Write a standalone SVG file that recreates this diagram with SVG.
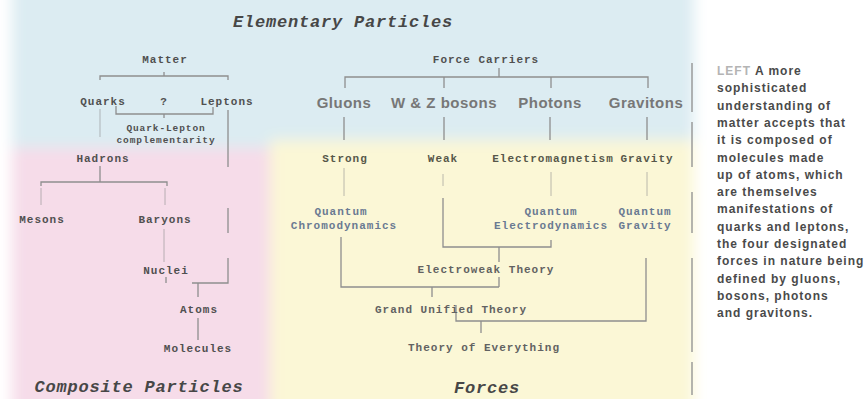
<svg xmlns="http://www.w3.org/2000/svg" width="866" height="399" viewBox="0 0 866 399">
<defs>
<filter id="soft" x="-10%" y="-10%" width="120%" height="120%"><feGaussianBlur stdDeviation="7"/></filter>
<style>
.t{font-family:"Liberation Mono","DejaVu Sans Mono",monospace;font-size:11px;font-weight:bold;letter-spacing:1px;text-anchor:middle;fill:#505050}
.s{font-size:9.5px;letter-spacing:0.9px}
.q{fill:#6a7a92}
.f{fill:#57574a}
.g{fill:#626262}
.c{font-family:"Liberation Sans",Arial,sans-serif;font-weight:bold;font-size:15px;letter-spacing:0.5px;text-anchor:middle;fill:#777}
.h{font-family:"Liberation Mono","DejaVu Sans Mono",monospace;font-style:italic;font-weight:bold;font-size:17px;letter-spacing:0.8px;text-anchor:middle;fill:#474747}
.p{font-family:"Liberation Sans",Arial,sans-serif;font-weight:bold;font-size:12px;letter-spacing:1px;fill:#4a4a4a}
.lf{fill:#b4b4b4}
.ln{fill:none;stroke:#8e8e8e;stroke-width:1.3}
.fa{opacity:0.45}
</style>
</defs>
<rect width="866" height="399" fill="#ffffff"/>
<g id="background" filter="url(#soft)">
<rect x="12" y="-40" width="682" height="188" fill="#dcecf2"/>
<rect x="12" y="148" width="258" height="290" fill="#f6dce9"/>
<rect x="270" y="140" width="424" height="298" fill="#fbf7d6"/>
</g>
<g id="connectors">
<path class="ln" d="M100,80 V76 H228 V80 M164,72 V76"/>
<path class="ln" d="M116,106 V114 H213 V107 M164,114 V118"/>
<path class="ln fa" d="M100,109 V137"/>
<path class="ln" d="M228,110 V167 M228,208 V233 M228,258 V283 H192"/>
<path class="ln" d="M100,166 V182 M41,186 V182 H167 V186"/>
<path class="ln fa" d="M41,188 V205 M165,188 V205 M164,229 V262"/>
<path class="ln" d="M166,277 V283 M198,283 V297 M198,318 V340"/>
<path class="ln" d="M499,68 V77 M345,88 V77 H648 V88 M444,77 V88 M551,77 V88"/>
<path class="ln" d="M344,117 V140 M444,117 V140 M550,117 V140 M647,117 V140"/>
<path class="ln fa" d="M344,168 V196 M443,174 V186 M551,172 V196 M647,172 V196"/>
<path class="ln" d="M443,198 V247 H551 V240"/>
<path class="ln" d="M499,247 V262 M499,277 V287 M341,237 V287 H499 M432,287 V297"/>
<path class="ln" d="M456,305 V321 H646 V258 M481,321 V333"/>
<path class="ln" d="M692,63 V112 M692,122 V167 M692,192 V233 M692,258 V352 M692,362 V395"/>
</g>
<g id="headings">
<text class="h" x="343" y="27">Elementary Particles</text>
<text class="h" x="139" y="392">Composite Particles</text>
<text class="h" x="487" y="393">Forces</text>
</g>
<g id="n-matter"><text class="t" x="165" y="63">Matter</text></g>
<g id="n-quarks"><text class="t" x="103" y="105">Quarks</text></g>
<g id="n-question"><text class="t" x="164" y="105">?</text></g>
<g id="n-leptons"><text class="t" x="227" y="105">Leptons</text></g>
<g id="n-complementarity"><text class="t s" x="166" y="131">Quark-Lepton</text><text class="t s" x="166" y="143">complementarity</text></g>
<g id="n-hadrons"><text class="t" x="103" y="162">Hadrons</text></g>
<g id="n-mesons"><text class="t" x="42" y="223">Mesons</text></g>
<g id="n-baryons"><text class="t" x="165" y="223">Baryons</text></g>
<g id="n-nuclei"><text class="t" x="166" y="274">Nuclei</text></g>
<g id="n-atoms"><text class="t" x="199" y="313">Atoms</text></g>
<g id="n-molecules"><text class="t" x="198" y="352">Molecules</text></g>
<g id="n-forcecarriers"><text class="t" x="486" y="63">Force Carriers</text></g>
<g id="n-gluons"><text class="c" x="344" y="108">Gluons</text></g>
<g id="n-wz"><text class="c" x="444" y="108">W &amp; Z bosons</text></g>
<g id="n-photons"><text class="c" x="550" y="108">Photons</text></g>
<g id="n-gravitons"><text class="c" x="646" y="108">Gravitons</text></g>
<g id="n-strong"><text class="t f" x="345" y="162">Strong</text></g>
<g id="n-weak"><text class="t f" x="443" y="162">Weak</text></g>
<g id="n-em"><text class="t f" x="553" y="162">Electromagnetism</text></g>
<g id="n-gravity"><text class="t f" x="647" y="162">Gravity</text></g>
<g id="n-qcd"><text class="t q" x="341" y="215">Quantum</text><text class="t q" x="344" y="229">Chromodynamics</text></g>
<g id="n-qed"><text class="t q" x="551" y="215">Quantum</text><text class="t q" x="551" y="229">Electrodynamics</text></g>
<g id="n-qg"><text class="t q" x="645" y="215">Quantum</text><text class="t q" x="645" y="229">Gravity</text></g>
<g id="n-electroweak"><text class="t g" x="486" y="273">Electroweak Theory</text></g>
<g id="n-gut"><text class="t g" x="451" y="313">Grand Unified Theory</text></g>
<g id="n-toe"><text class="t g" x="484" y="351">Theory of Everything</text></g>
<g id="caption">
<text class="p" x="717" y="75"><tspan class="lf">LEFT</tspan> A more</text>
<text class="p" x="717" y="92.3">sophisticated</text>
<text class="p" x="717" y="109.6">understanding of</text>
<text class="p" x="717" y="126.9">matter accepts that</text>
<text class="p" x="717" y="144.2">it is composed of</text>
<text class="p" x="717" y="161.5">molecules made</text>
<text class="p" x="717" y="178.8">up of atoms, which</text>
<text class="p" x="717" y="196.1">are themselves</text>
<text class="p" x="717" y="213.4">manifestations of</text>
<text class="p" x="717" y="230.7">quarks and leptons,</text>
<text class="p" x="717" y="248">the four designated</text>
<text class="p" x="717" y="265.3">forces in nature being</text>
<text class="p" x="717" y="282.6">defined by gluons,</text>
<text class="p" x="717" y="299.9">bosons, photons</text>
<text class="p" x="717" y="317.2">and gravitons.</text>
</g>
</svg>
